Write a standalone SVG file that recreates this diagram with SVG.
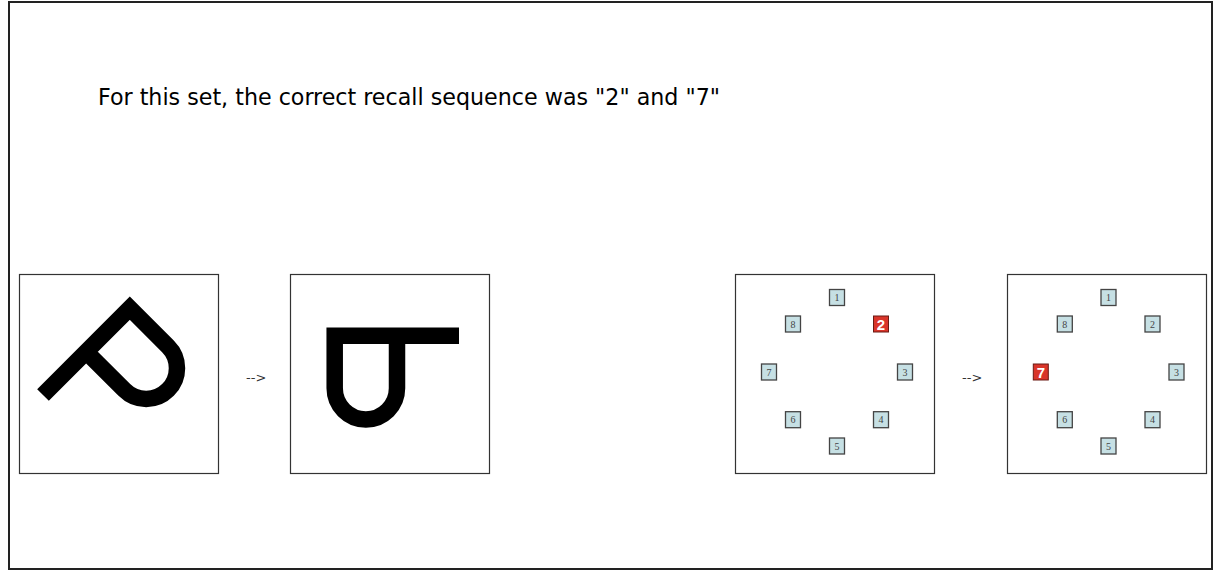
<svg xmlns="http://www.w3.org/2000/svg" width="1215" height="571" viewBox="0 0 1215 571">
<style>
.frame{fill:#fff;stroke:#222;stroke-width:2}
.panel{fill:#fff;stroke:#333;stroke-width:1.2}
.glyph{fill:none;stroke:#000;stroke-width:16.5;stroke-linejoin:miter;stroke-linecap:butt}
.arrowtxt{font-family:"DejaVu Sans",sans-serif;font-size:13px;fill:#333}
.title{font-family:"DejaVu Sans Condensed","DejaVu Sans",sans-serif;font-size:23px;fill:#000}
.sq{fill:#c6e0e4;stroke:#444;stroke-width:1.3}
.sqt{font-family:"Liberation Serif",serif;font-size:10px;fill:#444;text-anchor:middle}
.rsq{fill:#d9352a;stroke:#6a1a14;stroke-width:1}
.rsqt{font-family:"Liberation Sans",sans-serif;font-size:15px;font-weight:bold;fill:#fff;text-anchor:middle}
</style>
<defs>
<g id="tile"><rect class="sq" x="-7.5" y="-8" width="15" height="16"/></g>
<g id="rtile"><rect class="rsq" x="-7.5" y="-8" width="15" height="16"/></g>
</defs>
<rect class="frame" x="9" y="2" width="1203" height="567"/>
<text class="title" x="98" y="105" textLength="622" lengthAdjust="spacingAndGlyphs">For this set, the correct recall sequence was "2" and "7"</text>

<g id="panel1">
<rect class="panel" x="19.5" y="274.5" width="199" height="199"/>
<path class="glyph" d="M43,395 L129.8,308.2 L167.95,346.35 A30.8,30.8 0 0 1 124.35,389.95 L86.2,351.8"/>
</g>

<g id="panel2">
<rect class="panel" x="290.5" y="274.5" width="199" height="199"/>
<path class="glyph" d="M459,335.8 L334.7,335.8 L334.7,388.35 A31.15,31.15 0 0 0 397,388.35 L397,335.8"/>
</g>

<g id="panel3">
<rect class="panel" x="735.5" y="274.5" width="199" height="199"/>
<g transform="translate(837,297.5)"><use href="#tile"/><text class="sqt" y="3.5">1</text></g>
<g transform="translate(881,324)"><use href="#rtile"/><text class="rsqt" y="5.5">2</text></g>
<g transform="translate(905,372)"><use href="#tile"/><text class="sqt" y="3.5">3</text></g>
<g transform="translate(881,419.7)"><use href="#tile"/><text class="sqt" y="3.5">4</text></g>
<g transform="translate(837,446)"><use href="#tile"/><text class="sqt" y="3.5">5</text></g>
<g transform="translate(793,419.7)"><use href="#tile"/><text class="sqt" y="3.5">6</text></g>
<g transform="translate(769,372)"><use href="#tile"/><text class="sqt" y="3.5">7</text></g>
<g transform="translate(793,324)"><use href="#tile"/><text class="sqt" y="3.5">8</text></g>
</g>

<g id="panel4">
<rect class="panel" x="1007.5" y="274.5" width="199" height="199"/>
<g transform="translate(1108.5,297.5)"><use href="#tile"/><text class="sqt" y="3.5">1</text></g>
<g transform="translate(1152.5,324)"><use href="#tile"/><text class="sqt" y="3.5">2</text></g>
<g transform="translate(1176.5,372)"><use href="#tile"/><text class="sqt" y="3.5">3</text></g>
<g transform="translate(1152.5,419.7)"><use href="#tile"/><text class="sqt" y="3.5">4</text></g>
<g transform="translate(1108.5,446)"><use href="#tile"/><text class="sqt" y="3.5">5</text></g>
<g transform="translate(1064.8,419.7)"><use href="#tile"/><text class="sqt" y="3.5">6</text></g>
<g transform="translate(1040.8,372)"><use href="#rtile"/><text class="rsqt" y="5.5">7</text></g>
<g transform="translate(1064.8,324)"><use href="#tile"/><text class="sqt" y="3.5">8</text></g>
</g>

<g id="connectors">
<text class="arrowtxt" x="246" y="382">--&gt;</text>
<text class="arrowtxt" x="962" y="382">--&gt;</text>
</g>
</svg>
